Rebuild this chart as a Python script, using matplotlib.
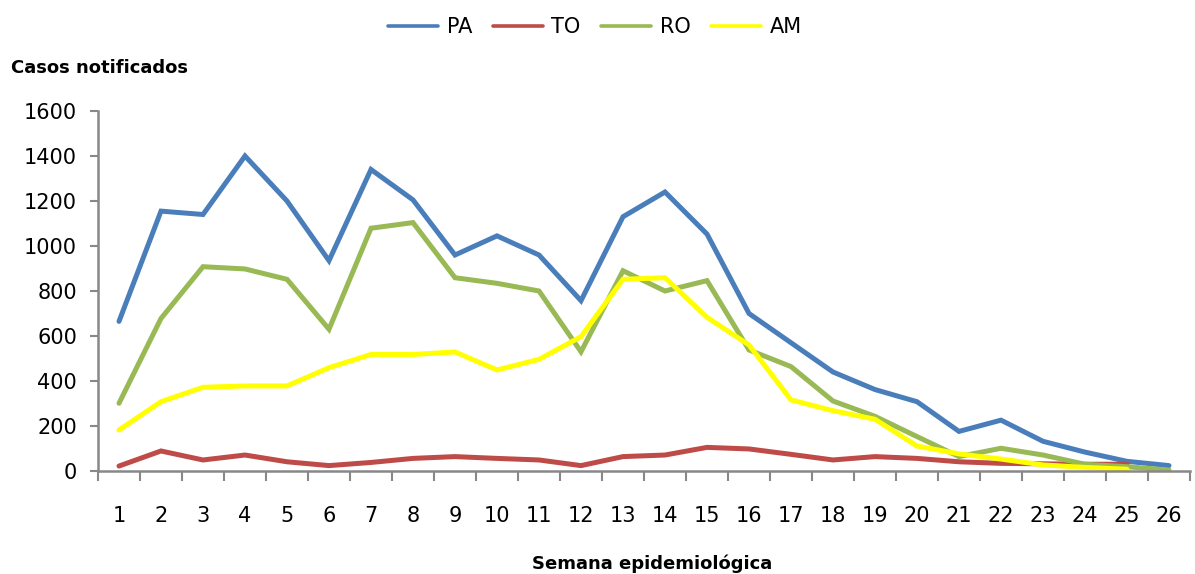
import matplotlib
matplotlib.use("Agg")
import matplotlib.pyplot as plt
import numpy as np

plt.rcParams['font.family'] = ['DejaVu Sans']

weeks = list(range(1, 27))
week_labels = [str(w) for w in weeks]

pa = [665, 1155, 1140, 1400, 1200, 935, 1340, 1205, 960, 1045, 960, 757, 1130, 1240, 1053,
      700, 570, 440, 362, 308, 176, 226, 132, 84, 43, 24]
to = [22, 89, 49, 71, 41, 24, 38, 56, 64, 56, 49, 24, 64, 71, 105, 98, 74, 49, 64, 56, 41,
      34, 32, 30, 30]
ro = [301, 678, 908, 898, 852, 630, 1079, 1104, 859, 834, 800, 530, 890, 800, 846, 538, 464,
      311, 243, 153, 64, 101, 71, 30, 19, 4]
am = [182, 308, 372, 378, 378, 459, 518, 518, 529, 449, 496, 597, 852, 859, 683, 560, 316,
      268, 230, 111, 76, 53, 27, 16, 8]

series = [("PA", pa, "#4A7EBB"), ("TO", to, "#BE4B48"), ("RO", ro, "#98B954"), ("AM", am, "#FFFF00")]

fig = plt.figure(figsize=(11.95, 5.74), dpi=100)
ax = fig.add_axes([98/1195, 1-471/574, (1190-98)/1195, (471-111)/574])

for name, vals, col in series:
    ax.plot(weeks[:len(vals)], vals, color=col, lw=3.6, label=name, solid_capstyle='round',
            solid_joinstyle='miter')

ax.set_xlim(0.5, 26.5)
ax.set_ylim(0, 1600)
ax.set_yticks(np.arange(0, 1601, 200))
ax.set_xticks(np.arange(0.5, 27, 1))
ax.set_xticklabels([])
ax.set_xticks(weeks, minor=True)
ax.set_xticklabels(week_labels, minor=True)
ax.tick_params(axis='x', which='major', length=7, width=1.5, color='#888888', direction='out')
ax.tick_params(axis='x', which='minor', length=0, pad=25, labelsize=15)
ax.tick_params(axis='y', length=6, width=1.5, color='#888888', direction='out', labelsize=15, pad=9)
for s in ['top', 'right']:
    ax.spines[s].set_visible(False)
for s in ['left', 'bottom']:
    ax.spines[s].set_color('#888888')
    ax.spines[s].set_linewidth(1.8)

fig.text(11/1195, 1-68/574, "Casos notificados", fontsize=13, fontweight='bold', va='center', ha='left')
fig.text(0.5 + 55/1195, 1/574, "Semana epidemiológica", fontsize=13, fontweight='bold', va='bottom', ha='center')

leg = fig.legend(loc='center', bbox_to_anchor=(595/1195, 1-27/574), ncol=4, frameon=False,
                 fontsize=15, handlelength=2.4, columnspacing=1.0, handletextpad=0.4)
for h in leg.get_lines():
    h.set_linewidth(2.6)

fig.savefig("out.png", dpi=100)
